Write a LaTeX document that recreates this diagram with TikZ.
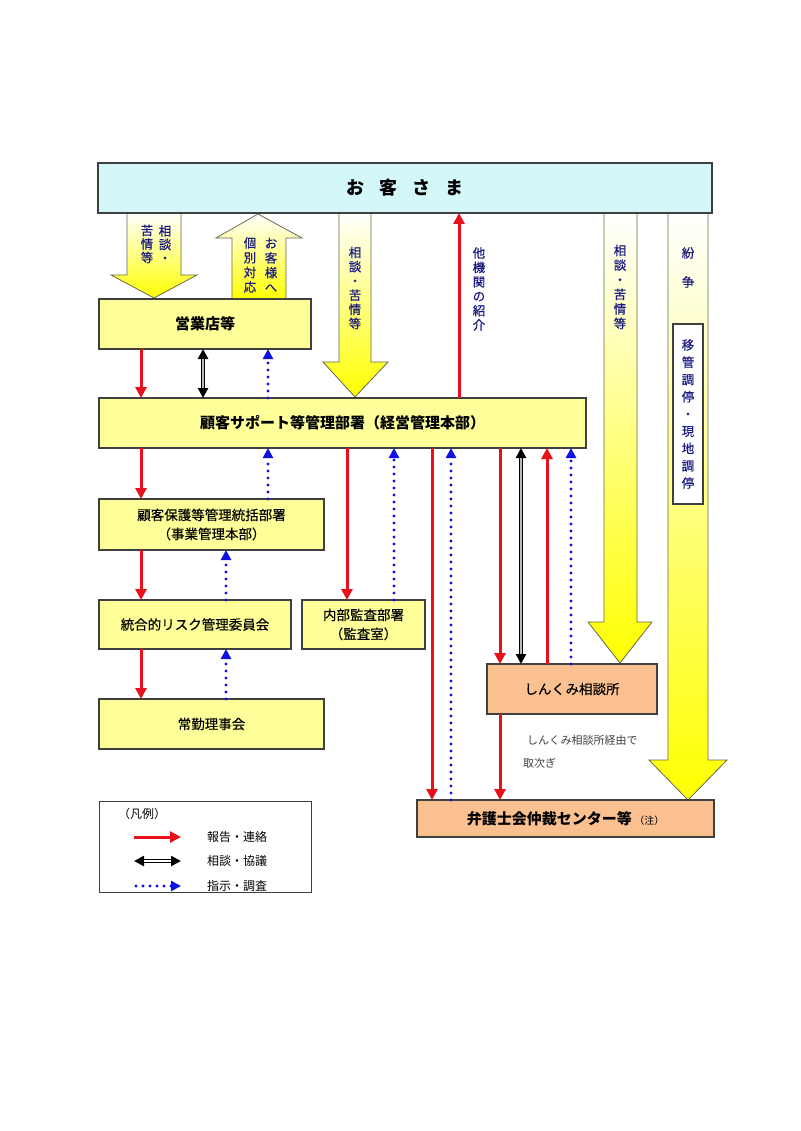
\documentclass[tikz,border=0pt]{standalone}
\usepackage{fontspec}
\setmainfont{Noto Sans CJK JP}
\newfontfamily\medjp[FakeBold=0.5]{Noto Sans CJK JP}
\newfontfamily\lightjp[FakeBold=0.25]{Noto Sans CJK JP}
\usetikzlibrary{arrows.meta}
\definecolor{boxy}{HTML}{FFFF99}
\definecolor{peach}{HTML}{FAC090}
\definecolor{cyanb}{HTML}{D4F7F9}
\definecolor{navy}{HTML}{1A1A80}
\definecolor{rred}{HTML}{E8101A}
\definecolor{bblue}{HTML}{1010E0}
\definecolor{edge}{HTML}{404040}
\definecolor{fatedge}{HTML}{666650}
\begin{document}
\begin{tikzpicture}[x=1pt,y=-1pt,
  box/.style={draw=edge, line width=1.1pt, fill=boxy, inner sep=0pt, outer sep=0pt, anchor=north west, align=center},
  rep/.style={draw=rred, line width=3pt, -{Triangle[length=11pt,width=11pt]}},
  dualA/.style={draw=black, line width=4pt, {Triangle[length=10pt,width=10pt]}-{Triangle[length=10pt,width=10pt]}},
  dualB/.style={draw=gray!55, line width=1.6pt, shorten <=10pt, shorten >=10pt},
  dot/.style={draw=bblue, line width=3.3pt, line cap=round, dash pattern=on 0pt off 7pt, -{Triangle[length=10pt,width=10pt]}},
  fat/.style={draw=fatedge, line width=0.8pt, top color=white, bottom color=yellow},
  vt/.style={align=center, inner sep=0pt, text=navy, font=\medjp\fontsize{12.5}{#1}\selectfont},
  vt/.default=14.5,
  bodytext/.style={font=\lightjp\fontsize{13.5}{19}\selectfont},
  headtext/.style={font=\bfseries\fontsize{15}{18}\selectfont}
]
\useasboundingbox (0,0) rectangle (800,1131);
\fill[white] (0,0) rectangle (800,1131);

% fat arrows
\path[fat] (127,213) -- (181,213) -- (181,275) -- (197,275) -- (154,298) -- (111,275) -- (127,275) -- cycle;
\path[fat] (232,299) -- (232,238) -- (216,238) -- (258,214) -- (302,238) -- (286,238) -- (286,299) -- cycle;
\path[fat] (339,213) -- (371,213) -- (371,362) -- (388,362) -- (355,397) -- (323,362) -- (339,362) -- cycle;
\path[fat] (604,213) -- (637,213) -- (637,622) -- (652,622) -- (620,663) -- (588,622) -- (604,622) -- cycle;
\path[fat] (668,213) -- (708,213) -- (708,760) -- (727,760) -- (688,800) -- (649,760) -- (668,760) -- cycle;

% boxes
\node[box, fill=cyanb, minimum width=614pt, minimum height=50pt, font=\bfseries\fontsize{18}{20}\selectfont] (cust) at (98,163) {お\hspace{15pt}客\hspace{15pt}さ\hspace{15pt}ま};
\node[box, minimum width=212pt, minimum height=50pt, headtext] (eig) at (99,299) {営業店等};
\node[box, minimum width=487pt, minimum height=50pt, headtext] (sup) at (99,398) {顧客サポート等管理部署（経営管理本部）};
\node[box, minimum width=225pt, minimum height=51pt, bodytext] (prot) at (99,499) {顧客保護等管理統括部署\\（事業管理本部）};
\node[box, minimum width=192pt, minimum height=49pt, bodytext] (risk) at (99,600) {統合的リスク管理委員会};
\node[box, minimum width=225pt, minimum height=50pt, bodytext] (jokin) at (99,699) {常勤理事会};
\node[box, minimum width=123pt, minimum height=49pt, bodytext] (audit) at (302,600) {内部監査部署\\（監査室）};
\node[box, fill=peach, minimum width=170pt, minimum height=50pt, bodytext] (shin) at (487,664) {しんくみ相談所};
\node[box, fill=peach, minimum width=297pt, minimum height=37pt, headtext] (bengo) at (417,800) {弁護士会仲裁センター等\,{\mdseries\fontsize{10}{12}\selectfont （注）}};
\node[box, fill=white, minimum width=30pt, minimum height=180pt] (inner) at (673,324) {};

% vertical labels
\node[vt=13.5] (t1a) at (165,244) {相\\談\\・};
\node[vt=13.5] (t1b) at (147,244) {苦\\情\\等};
\node[vt=14.7] (t2a) at (271,265) {お\\客\\様\\へ};
\node[vt=14.7] (t2b) at (250,265) {個\\別\\対\\応};
\node[vt=14.2] (t3) at (355,288) {相\\談\\・\\苦\\情\\等};
\node[vt=14.4] (t4) at (479,289) {他\\機\\関\\の\\紹\\介};
\node[vt=14.6] (t5) at (620,287) {相\\談\\・\\苦\\情\\等};
\node[vt] (t6a) at (688,253) {紛};
\node[vt] (t6b) at (688,282) {争};
\node[vt=17.25] (t7) at (688,414) {移\\管\\調\\停\\・\\現\\地\\調\\停};

% x helper coordinates
\foreach \xx in {141,203,226,268,347,394,432,451,459,500,521,547,571}
  \coordinate (x\xx) at (\xx,0);

% connectors
\draw[rep] (x141|-eig.south) -- (x141|-sup.north);
\draw[dualA] (x203|-eig.south) -- (x203|-sup.north);
\draw[dualB] (x203|-eig.south) -- (x203|-sup.north);
\draw[dot] (x268|-sup.north) -- (x268|-eig.south);
\draw[rep] (x459|-sup.north) -- (x459|-cust.south);
\draw[rep] (x141|-sup.south) -- (x141|-prot.north);
\draw[dot] (x268|-prot.north) -- (x268|-sup.south);
\draw[rep] (x141|-prot.south) -- (x141|-risk.north);
\draw[dot] (x226|-risk.north) -- (x226|-prot.south);
\draw[rep] (x141|-risk.south) -- (x141|-jokin.north);
\draw[dot] (x226|-jokin.north) -- (x226|-risk.south);
\draw[rep] (x347|-sup.south) -- (x347|-audit.north);
\draw[dot] (x394|-audit.north) -- (x394|-sup.south);
\draw[rep] (x432|-sup.south) -- (x432|-bengo.north);
\draw[dot] (x451|-bengo.north) -- (x451|-sup.south);
\draw[rep] (x500|-sup.south) -- (x500|-shin.north);
\draw[dualA] (x521|-sup.south) -- (x521|-shin.north);
\draw[dualB] (x521|-sup.south) -- (x521|-shin.north);
\draw[rep] (x547|-shin.north) -- (x547|-sup.south);
\draw[dot] (x571|-shin.north) -- (x571|-sup.south);
\draw[rep] (x500|-shin.south) -- (x500|-bengo.north);

% note
\node[anchor=west, inner sep=0pt, text=black!75, font=\fontsize{11}{13}\selectfont] (note1) at (527,740) {しんくみ相談所経由で};
\node[anchor=west, inner sep=0pt, text=black!75, font=\fontsize{11}{13}\selectfont] (note2) at (523,763) {取次ぎ};

% legend
\node[box, fill=white, line width=0.9pt, minimum width=212pt, minimum height=91pt] (legend) at (99,801) {};
\node[anchor=west, inner sep=0pt, font=\fontsize{12}{14}\selectfont] (lgt) at (118,814) {（凡例）};
\coordinate (l1a) at (134,837); \coordinate (l1b) at (181,837);
\coordinate (l2a) at (134,861); \coordinate (l2b) at (181,861);
\coordinate (l3a) at (136,886); \coordinate (l3b) at (181,886);
\draw[rep] (l1a) -- (l1b);
\draw[dualA, line width=3.6pt] (l2a) -- (l2b);
\draw[draw=white, line width=1.2pt, shorten <=10pt, shorten >=10pt] (l2a) -- (l2b);
\draw[dot] (l3a) -- (l3b);
\node[anchor=west, inner sep=0pt, font=\fontsize{12}{14}\selectfont] (lg1) at (207,837) {報告・連絡};
\node[anchor=west, inner sep=0pt, font=\fontsize{12}{14}\selectfont] (lg2) at (207,861) {相談・協議};
\node[anchor=west, inner sep=0pt, font=\fontsize{12}{14}\selectfont] (lg3) at (207,886) {指示・調査};
\end{tikzpicture}
\end{document}
